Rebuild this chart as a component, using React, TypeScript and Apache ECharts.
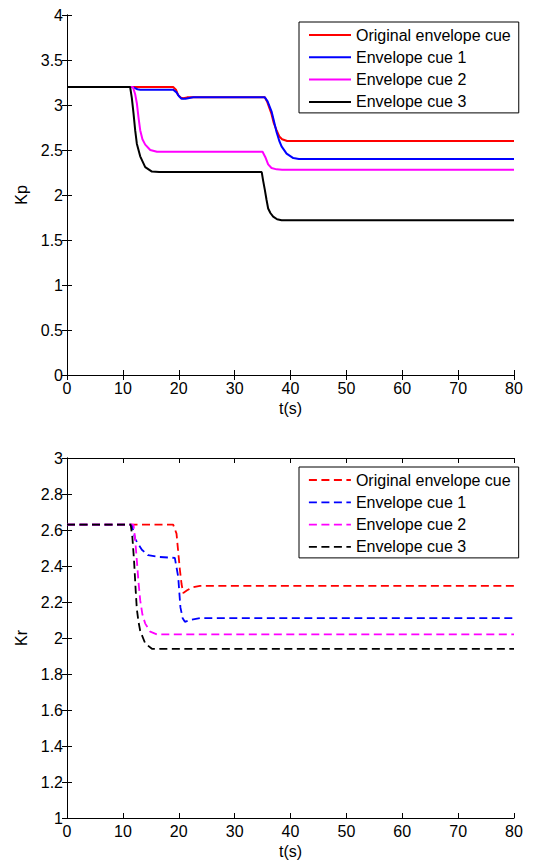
import React, { useEffect, useRef } from "react";
import * as echarts from "echarts";

const seriesNames = ["Original envelope cue", "Envelope cue 1", "Envelope cue 2", "Envelope cue 3"];
const seriesColors = ["#ff0000", "#0000ff", "#ff00ff", "#000000"];

// Kp (top panel)
const kpOrigT = [0, 19.0, 19.5, 19.9, 20.4, 20.8, 21.5, 35.4, 35.8, 36.2, 36.6, 37.0, 37.5, 38.0, 38.5, 39.4, 80];
const kpOrigV = [3.2, 3.2, 3.17, 3.11, 3.08, 3.075, 3.085, 3.085, 3.04, 2.97, 2.9, 2.8, 2.72, 2.65, 2.62, 2.6, 2.6];
const kp1T = [0, 11.6, 12.1, 12.6, 13.1, 19.0, 19.6, 20.0, 20.5, 21.2, 22.6, 35.4, 35.9, 36.6, 37.0, 37.5, 38.0, 38.4, 39.3, 40.5, 41.5, 80];
const kp1V = [3.2, 3.2, 3.19, 3.175, 3.17, 3.17, 3.14, 3.1, 3.07, 3.07, 3.085, 3.085, 3.04, 2.93, 2.83, 2.7, 2.6, 2.54, 2.46, 2.41, 2.4, 2.4];
const kp2T = [0, 11.8, 12.2, 12.5, 12.8, 13.1, 13.5, 14.0, 14.9, 16.1, 35.0, 35.5, 36.0, 36.6, 37.5, 38.5, 80];
const kp2V = [3.2, 3.2, 3.12, 3.02, 2.86, 2.72, 2.62, 2.56, 2.5, 2.48, 2.48, 2.42, 2.34, 2.3, 2.285, 2.28, 2.28];
const kp3T = [0, 11.3, 11.6, 11.9, 12.2, 12.5, 13.1, 14.0, 15.2, 16.5, 34.85, 35.1, 35.4, 35.7, 36.0, 36.4, 36.9, 37.6, 38.4, 80];
const kp3V = [3.2, 3.2, 3.08, 2.91, 2.72, 2.57, 2.43, 2.31, 2.26, 2.255, 2.255, 2.16, 2.06, 1.95, 1.85, 1.8, 1.76, 1.73, 1.72, 1.72];

// Kr (bottom panel)
const krOrigT = [0, 19.0, 19.6, 19.9, 20.2, 20.5, 20.8, 21.5, 22.3, 23.8, 80];
const krOrigV = [2.63, 2.63, 2.58, 2.48, 2.38, 2.3, 2.25, 2.265, 2.28, 2.29, 2.29];
const kr1T = [0, 11.6, 11.9, 12.2, 12.8, 13.4, 14.5, 16.6, 19.3, 19.9, 20.3, 20.7, 21.1, 22.0, 23.8, 80];
const kr1V = [2.63, 2.63, 2.59, 2.55, 2.52, 2.49, 2.46, 2.45, 2.445, 2.34, 2.17, 2.11, 2.09, 2.1, 2.11, 2.11];
const kr2T = [0, 11.9, 12.2, 12.5, 12.8, 13.1, 13.5, 14.0, 14.9, 16.1, 80];
const kr2V = [2.63, 2.63, 2.55, 2.43, 2.31, 2.21, 2.13, 2.08, 2.035, 2.02, 2.02];
const kr3T = [0, 11.4, 11.7, 12.0, 12.3, 12.5, 12.8, 13.1, 14.0, 15.2, 80];
const kr3V = [2.63, 2.63, 2.56, 2.43, 2.26, 2.16, 2.09, 2.04, 1.97, 1.94, 1.94];

const zip = (t: number[], v: number[]) => t.map((x, i) => [x, v[i]]);

const FONT = "'Liberation Sans', Arial, sans-serif";
const DASH = [8, 4.5];

export default function App() {
  const ref = useRef<HTMLDivElement>(null);
  useEffect(() => {
    if (!ref.current) return;
    const chart = echarts.init(ref.current, null, { renderer: "svg" });
    const axisLine = { show: true, lineStyle: { color: "#000", width: 1 } };
    const tick = { show: true, inside: true, length: 5, lineStyle: { color: "#000" } };
    const label = { color: "#000", fontSize: 16, fontFamily: FONT };
    const nameStyle = { color: "#000", fontSize: 16, fontFamily: FONT };
    const xAxisBase = (gridIndex: number) => [
      {
        type: "value", gridIndex, min: 0, max: 80, interval: 10, position: "bottom",
        axisLine, axisTick: tick, splitLine: { show: false },
        axisLabel: { ...label, margin: 5 },
        name: "t(s)", nameLocation: "middle", nameGap: 25, nameTextStyle: nameStyle,
      },
      {
        type: "value", gridIndex, min: 0, max: 80, interval: 10, position: "top",
        axisLine, axisTick: tick, splitLine: { show: false }, axisLabel: { show: false },
      },
    ];
    const yAxisBase = (gridIndex: number, min: number, max: number, interval: number, name: string) => [
      {
        type: "value", gridIndex, min, max, interval, position: "left",
        axisLine, axisTick: tick, splitLine: { show: false },
        axisLabel: { ...label, margin: 4 },
        name, nameLocation: "middle", nameGap: 37, nameRotate: 90, nameTextStyle: nameStyle,
      },
      {
        type: "value", gridIndex, min, max, interval, position: "right",
        axisLine, axisTick: tick, splitLine: { show: false }, axisLabel: { show: false },
      },
    ];
    const topData = [zip(kpOrigT, kpOrigV), zip(kp1T, kp1V), zip(kp2T, kp2V), zip(kp3T, kp3V)];
    const botData = [zip(krOrigT, krOrigV), zip(kr1T, kr1V), zip(kr2T, kr2V), zip(kr3T, kr3V)];
    const series: any[] = [];
    topData.forEach((d, i) => {
      series.push({
        type: "line", name: seriesNames[i], xAxisIndex: 0, yAxisIndex: 0, data: d,
        symbol: "none", color: seriesColors[i], lineStyle: { color: seriesColors[i], width: 2 },
      });
    });
    botData.forEach((d, i) => {
      series.push({
        type: "line", name: seriesNames[i], xAxisIndex: 2, yAxisIndex: 2, data: d,
        symbol: "none", color: seriesColors[i], lineStyle: { color: seriesColors[i], width: 1.8, type: DASH },
      });
    });
    const legendBase = {
      orient: "vertical", left: 299, itemWidth: 42, itemHeight: 16, itemGap: 6.3,
      padding: [5, 8, 3, 9], borderColor: "#000", borderWidth: 1, backgroundColor: "#fff",
      textStyle: { color: "#000", fontSize: 16, lineHeight: 16, fontFamily: FONT },
      itemStyle: { opacity: 0 },
      selectedMode: false,
    };
    chart.setOption({
      animation: false,
      backgroundColor: "#fff",
      grid: [
        { left: 67, top: 15, width: 447, height: 360 },
        { left: 67, top: 458, width: 447, height: 360 },
      ],
      xAxis: [...xAxisBase(0), ...xAxisBase(1)],
      yAxis: [...yAxisBase(0, 0, 4, 0.5, "Kp"), ...yAxisBase(1, 1, 3, 0.2, "Kr")],
      legend: [
        {
          ...legendBase, top: 22,
          data: seriesNames.map((n, i) => ({ name: n, itemStyle: { opacity: 0 }, lineStyle: { color: seriesColors[i], width: 2, type: "solid" } })),
        },
        {
          ...legendBase, top: 467,
          data: seriesNames.map((n, i) => ({ name: n, itemStyle: { opacity: 0 }, lineStyle: { color: seriesColors[i], width: 1.8, type: DASH } })),
        },
      ],
      series,
    });
    return () => chart.dispose();
  }, []);
  return <div ref={ref} style={{ position: "fixed", left: 0, top: 0, width: 534, height: 862, background: "#fff" }} />;
}
